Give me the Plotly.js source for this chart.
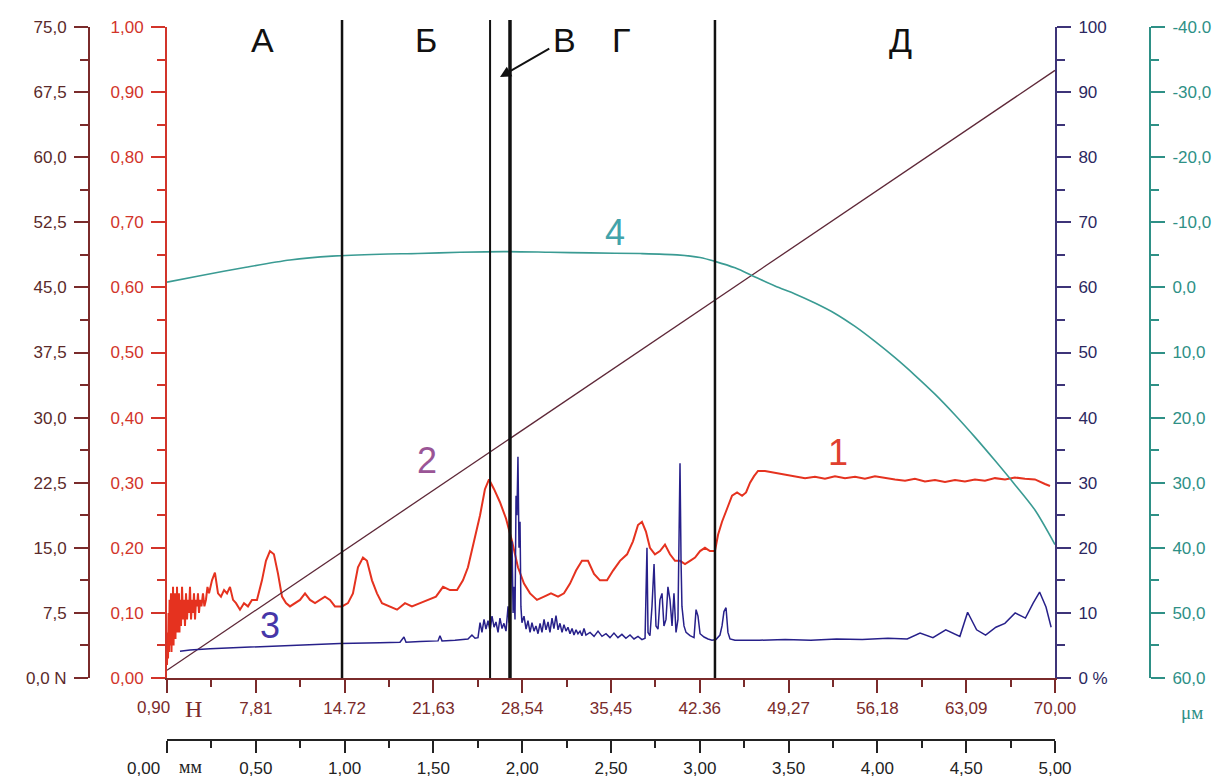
<!DOCTYPE html>
<html><head><meta charset="utf-8">
<script src="https://cdn.plot.ly/plotly-3.0.1.min.js"></script>
<style>html,body{margin:0;padding:0;background:#fff;}#chart{width:1223px;height:780px;}</style>
</head><body><div id="chart"></div>
<script>
// ---------- data (x in N of load) ----------
const COF_X = [0.90,0.94,0.98,1.02,1.06,1.10,1.13,1.17,1.21,1.25,1.29,1.33,1.37,1.41,1.44,1.48,1.52,1.56,1.60,1.64,1.68,1.72,1.76,1.80,1.83,1.87,1.91,1.99,2.07,2.15,2.22,2.30,2.38,2.46,2.53,2.61,2.69,2.77,2.85,2.93,3.00,3.08,3.16,3.24,3.31,3.39,3.47,3.58,3.70,3.81,3.93,4.05,4.17,4.40,4.63,4.87,5.10,5.34,5.57,5.80,6.04,6.27,6.58,6.89,7.20,7.51,7.90,8.29,8.60,8.91,9.22,9.54,9.85,10.16,10.47,10.86,11.25,11.64,12.03,12.42,12.81,13.19,13.58,13.97,14.52,14.98,15.37,15.76,16.15,16.46,16.85,17.24,17.63,18.25,18.80,19.42,19.96,20.59,21.21,21.83,22.38,22.92,23.47,23.93,24.32,24.79,25.26,25.64,25.96,26.35,26.81,27.28,27.75,28.21,28.68,29.15,29.69,30.24,30.78,31.33,31.79,32.26,32.73,33.19,33.66,34.13,34.59,35.14,35.61,36.15,36.70,37.16,37.55,37.86,38.17,38.48,38.87,39.26,39.65,40.04,40.43,40.82,41.21,41.60,41.99,42.38,42.76,43.15,43.54,43.78,44.09,44.48,44.87,45.26,45.65,45.96,46.27,46.58,46.89,47.43,48.21,48.99,49.77,50.55,51.32,52.10,52.88,53.66,54.44,55.21,55.99,56.77,57.55,58.33,59.10,59.88,60.66,61.44,62.22,62.99,63.77,64.55,65.33,66.11,66.88,67.66,68.44,69.22,69.61,70.00];
const COF_Y = [0.02,0.07,0.03,0.10,0.04,0.12,0.05,0.09,0.13,0.04,0.11,0.06,0.14,0.05,0.10,0.07,0.13,0.06,0.12,0.08,0.14,0.07,0.11,0.09,0.13,0.07,0.12,0.08,0.14,0.09,0.12,0.08,0.13,0.09,0.12,0.10,0.14,0.09,0.12,0.10,0.13,0.09,0.12,0.11,0.13,0.10,0.12,0.11,0.13,0.11,0.12,0.14,0.13,0.15,0.162,0.13,0.125,0.135,0.13,0.14,0.12,0.115,0.105,0.115,0.11,0.12,0.12,0.15,0.18,0.195,0.19,0.16,0.125,0.115,0.11,0.115,0.12,0.13,0.12,0.115,0.12,0.125,0.12,0.11,0.11,0.115,0.13,0.17,0.185,0.18,0.15,0.13,0.115,0.11,0.105,0.115,0.11,0.115,0.12,0.125,0.14,0.135,0.135,0.15,0.17,0.21,0.25,0.29,0.305,0.29,0.27,0.245,0.21,0.17,0.145,0.13,0.12,0.125,0.13,0.125,0.13,0.145,0.165,0.18,0.18,0.16,0.15,0.15,0.165,0.18,0.19,0.21,0.235,0.24,0.225,0.20,0.19,0.195,0.205,0.19,0.18,0.18,0.175,0.18,0.185,0.195,0.20,0.195,0.195,0.22,0.24,0.26,0.28,0.285,0.28,0.285,0.30,0.31,0.318,0.318,0.315,0.312,0.31,0.307,0.309,0.306,0.310,0.307,0.309,0.306,0.310,0.307,0.305,0.303,0.306,0.302,0.304,0.301,0.304,0.302,0.305,0.303,0.307,0.305,0.308,0.306,0.305,0.298,0.295];

const LOAD_X = [0.90, 70.00];
const LOAD_Y = [0.90, 70.00];

const AE_X = [1.91,2.69,4.25,6.58,9.69,12.81,14.36,17.47,19.03,19.34,19.50,20.59,21.99,22.14,22.30,23.31,23.70,24.32,24.63,24.87,25.10,25.26,25.41,25.57,25.72,25.88,26.04,26.19,26.35,26.50,26.66,26.81,26.97,27.12,27.28,27.44,27.52,27.59,27.75,27.83,27.90,27.98,28.06,28.13,28.21,28.29,28.37,28.44,28.52,28.68,28.84,28.99,29.15,29.30,29.46,29.61,29.77,29.93,30.08,30.24,30.39,30.55,30.70,30.86,31.01,31.17,31.33,31.48,31.64,31.79,31.95,32.10,32.26,32.42,32.57,32.73,32.88,33.04,33.19,33.35,33.50,33.82,34.13,34.44,34.75,35.06,35.37,35.68,35.99,36.30,36.61,36.93,37.24,37.55,37.86,38.10,38.25,38.33,38.48,38.64,38.80,38.95,39.11,39.26,39.42,39.57,39.73,39.88,40.04,40.20,40.35,40.51,40.66,40.82,40.90,40.97,41.13,41.29,41.60,41.91,42.07,42.22,42.38,42.69,43.00,43.31,43.62,43.93,44.09,44.24,44.40,44.55,44.71,45.10,47.00,49.00,51.00,53.00,55.00,57.00,58.50,59.50,60.50,61.50,62.60,63.20,63.90,64.60,65.40,66.10,66.90,67.70,68.30,68.80,69.30,69.70,70.00];
const AE_Y = [4.1,4.3,4.5,4.7,5.0,5.2,5.3,5.4,5.5,6.3,5.5,5.6,5.7,6.5,5.7,5.8,5.9,6.0,6.6,6.1,6.2,8.5,7.0,9.0,7.5,8.8,7.2,9.5,7.8,8.6,7.0,9.2,7.6,8.4,7.2,11,8.5,9.5,21,10,14,9,28,25,34,20,24,11,8.5,9.5,7.5,8.8,7.0,8.5,7.2,8.0,6.8,8.4,7.0,9.0,7.4,8.6,7.0,9.2,7.6,9.6,7.4,8.4,7.0,8.2,7.2,7.8,6.8,7.6,6.6,7.4,6.8,7.2,6.5,7.6,6.6,7.0,6.4,7.2,6.4,6.8,6.2,6.9,6.2,6.7,6.1,6.6,6.0,6.4,5.9,6.1,20,7,6.5,11,17.5,8,7.5,12,13,8,9,14,12,8,13,7,9,33,18,11,8,7,6.5,6.2,10.5,9.5,6.8,6.3,6.0,5.8,5.9,6.6,8,10.2,10.8,7,6,5.8,5.8,5.9,5.8,6.0,5.9,6.1,6.0,6.9,6.2,7.4,6.4,10.1,7.4,6.6,7.8,8.4,10.0,9.2,11.5,13.2,10.9,7.8];

const WEAR_X = [0.90,3.47,7.05,10.47,13.74,17.47,20.43,23.70,27.12,30.70,33.82,37.71,40.59,42.38,43.54,45.10,46.66,48.21,49.77,51.32,52.88,54.44,55.99,57.55,59.10,60.66,62.22,63.77,65.33,66.88,68.44,70.00];
const WEAR_Y = [-0.8,-1.8,-3.1,-4.2,-4.8,-5.1,-5.2,-5.4,-5.5,-5.4,-5.3,-5.2,-5.0,-4.6,-4.0,-3.0,-1.6,-0.2,1.0,2.4,4.0,6.0,8.3,10.8,13.5,16.4,19.6,23.0,26.6,30.3,34.2,39.5];

const STAGE_BOUNDS = [14.52, 26.04, 27.59, 43.54];
const STAGE_WIDTHS = [2.5, 2, 3.5, 2.5];
const STAGE_LABELS = ['А','Б','В','Г','Д'];
const CURVE_LABELS = ['1','2','3','4'];

const N_TICKS = [0.9,7.81,14.72,21.63,28.54,35.45,42.36,49.27,56.18,63.09,70.0];
const N_TICK_TEXT = ['','7,81','14.72','21,63','28,54','35,45','42.36','49,27','56,18','63,09','70,00'];
const MM_TICKS = [0,0.5,1,1.5,2,2.5,3,3.5,4,4.5,5];
const MM_TICK_TEXT = ['','0,50','1,00','1,50','2,00','2,50','3,00','3,50','4,00','4,50','5,00'];
const COF_TICKS = [0,0.1,0.2,0.3,0.4,0.5,0.6,0.7,0.8,0.9,1.0];
const COF_TICK_TEXT = ['0,00','0,10','0,20','0,30','0,40','0,50','0,60','0,70','0,80','0,90','1,00'];
const LOAD_TICKS = [0,7.5,15,22.5,30,37.5,45,52.5,60,67.5,75];
const LOAD_TICK_TEXT = ['0,0 N','7,5','15,0','22,5','30,0','37,5','45,0','52,5','60,0','67,5','75,0'];
const PCT_TICKS = [0,10,20,30,40,50,60,70,80,90,100];
const PCT_TICK_TEXT = ['0 %','10','20','30','40','50','60','70','80','90','100'];
const DEPTH_TICKS = [-40,-30,-20,-10,0,10,20,30,40,50,60];
const DEPTH_TICK_TEXT = ['-40.0','-30,0','-20,0','-10,0','0,0','10,0','20,0','30,0','40,0','50,0','60,0'];

// ---------- layout helpers ----------
const W = 1223, H = 780;
const px = x => x / W, py = y => 1 - y / H;
const BROWN = '#7a2b2b', RED = '#d2342a', PURPLE = '#3d3478', TEAL = '#2e9086';
const FONT = 'Liberation Sans, Arial, sans-serif';
const SERIF = 'Liberation Serif, DejaVu Serif, serif';

function yAx(o) {
  return Object.assign({
    tickmode: 'array', ticks: 'outside', ticklen: 14, tickwidth: 2,
    showline: true, linewidth: 2, zeroline: false, showgrid: false,
    fixedrange: true, ticklabelstandoff: 4,
    tickfont: {family: FONT, size: 17}
  }, o);
}
function label(text, x, y, font) {
  return {text: text, xref: 'paper', yref: 'paper', x: px(x), y: py(y),
          xanchor: 'center', yanchor: 'middle', showarrow: false, font: font};
}

const traces = [
  {x: COF_X, y: COF_Y, xaxis: 'x', yaxis: 'y', mode: 'lines', line: {color: '#e5321f', width: 2}, hoverinfo: 'skip'},
  {x: LOAD_X, y: LOAD_Y, xaxis: 'x', yaxis: 'y2', mode: 'lines', line: {color: '#5e2838', width: 1.3}, hoverinfo: 'skip'},
  {x: AE_X, y: AE_Y, xaxis: 'x', yaxis: 'y3', mode: 'lines', line: {color: '#27208a', width: 1.5}, hoverinfo: 'skip'},
  {x: WEAR_X, y: WEAR_Y, xaxis: 'x', yaxis: 'y4', mode: 'lines', line: {color: '#3a9b93', width: 1.6, shape: 'spline', smoothing: 0.8}, hoverinfo: 'skip'},
  {x: [0, 5], y: [null, null], xaxis: 'x2', yaxis: 'y', mode: 'lines', showlegend: false, hoverinfo: 'skip'}
];

const shapes = STAGE_BOUNDS.map((b, i) => ({
  type: 'line', xref: 'x', yref: 'paper', x0: b, x1: b, y0: py(678), y1: py(20),
  line: {color: '#111', width: STAGE_WIDTHS[i]}
}));

const stagePos = [[262, 40], [426, 40], [564, 40], [621, 40], [900, 40]];
const annotations = STAGE_LABELS.map((t, i) =>
  label(t, stagePos[i][0], stagePos[i][1], {family: FONT, size: 34, color: '#111'}));
// arrow for В (head near the double line, text at tail)
annotations[2] = Object.assign(annotations[2], {
  showarrow: true, axref: 'pixel', ayref: 'pixel', ax: 64, ay: -37,
  x: px(500), y: py(77),
  arrowhead: 2, arrowsize: 1.1, arrowwidth: 2, arrowcolor: '#111', standoff: 0, startstandoff: 2
});

const curvePos = [[838, 452, '#e0402f'], [427, 460, '#9a5596'], [270, 625, '#4636a8'], [615, 232, '#42a3aa']];
CURVE_LABELS.forEach((t, i) => annotations.push(
  label(t, curvePos[i][0], curvePos[i][1], {family: FONT, size: 36, color: curvePos[i][2], weight: 300})));
// first tick labels and units
annotations.push(label('0,90', 153, 707, {family: FONT, size: 17, color: BROWN}));
annotations.push(label('Н', 193, 709, {family: SERIF, size: 24, color: BROWN}));
annotations.push(label('0,00', 143, 768, {family: FONT, size: 17, color: '#222'}));
annotations.push(label('мм', 190, 767, {family: SERIF, size: 18, color: '#222'}));
annotations.push(label('μм', 1192, 712, {family: SERIF, size: 19, color: TEAL}));

const layout = {
  width: W, height: H, margin: {l: 0, r: 0, t: 0, b: 0},
  paper_bgcolor: '#fff', plot_bgcolor: '#fff', showlegend: false,
  xaxis: {
    domain: [px(167), px(1055)], range: [0.9, 70], tickmode: 'array', tickvals: N_TICKS, ticktext: N_TICK_TEXT,
    ticks: 'outside', ticklen: 13, tickwidth: 2, tickcolor: BROWN, showline: true, linecolor: BROWN, linewidth: 2,
    zeroline: false, showgrid: false, fixedrange: true, tickfont: {family: FONT, size: 17, color: BROWN}, ticklabelstandoff: 1,
    minor: {tickmode: 'linear', tick0: 0.9 + 3.455, dtick: 6.91, ticks: 'outside', ticklen: 7, tickwidth: 2, tickcolor: BROWN, showgrid: false},
    anchor: 'y'
  },
  xaxis2: {
    domain: [px(167), px(1055)], range: [0, 5], overlaying: 'x', anchor: 'free', position: py(740), side: 'bottom',
    tickmode: 'array', tickvals: MM_TICKS, ticktext: MM_TICK_TEXT,
    ticks: 'outside', ticklen: 12, tickwidth: 2, tickcolor: '#222', showline: true, linecolor: '#222', linewidth: 2,
    zeroline: false, showgrid: false, fixedrange: true, tickfont: {family: FONT, size: 17, color: '#222'}, ticklabelstandoff: 1,
    minor: {tickmode: 'linear', tick0: 0.25, dtick: 0.5, ticks: 'outside', ticklen: 7, tickwidth: 2, tickcolor: '#222', showgrid: false}
  },
  yaxis: yAx({
    domain: [py(678), py(27)], range: [0, 1], tickvals: COF_TICKS, ticktext: COF_TICK_TEXT, anchor: 'x', side: 'left',
    linecolor: RED, tickcolor: RED, tickfont: {family: FONT, size: 17, color: RED},
    minor: {tickmode: 'linear', tick0: 0.05, dtick: 0.1, ticks: 'outside', ticklen: 8, tickwidth: 2, tickcolor: RED, showgrid: false}
  }),
  yaxis2: yAx({
    domain: [py(678), py(27)], range: [0, 75], tickvals: LOAD_TICKS, ticktext: LOAD_TICK_TEXT, overlaying: 'y',
    anchor: 'free', position: px(89), side: 'left',
    linecolor: BROWN, tickcolor: BROWN, tickfont: {family: FONT, size: 17, color: '#5a2a2a'},
    minor: {tickmode: 'linear', tick0: 3.75, dtick: 7.5, ticks: 'outside', ticklen: 8, tickwidth: 2, tickcolor: BROWN, showgrid: false}
  }),
  yaxis3: yAx({
    domain: [py(678), py(27)], range: [0, 100], tickvals: PCT_TICKS, ticktext: PCT_TICK_TEXT, overlaying: 'y',
    anchor: 'x', side: 'right',
    linecolor: PURPLE, tickcolor: PURPLE, tickfont: {family: FONT, size: 17, color: '#2c2860'},
    minor: {tickmode: 'linear', tick0: 5, dtick: 10, ticks: 'outside', ticklen: 8, tickwidth: 2, tickcolor: PURPLE, showgrid: false}
  }),
  yaxis4: yAx({
    domain: [py(678), py(27)], range: [60, -40], tickvals: DEPTH_TICKS, ticktext: DEPTH_TICK_TEXT, overlaying: 'y',
    anchor: 'free', position: px(1150), side: 'right',
    linecolor: TEAL, tickcolor: TEAL, tickfont: {family: FONT, size: 17, color: TEAL},
    minor: {tickmode: 'linear', tick0: -35, dtick: 10, ticks: 'outside', ticklen: 8, tickwidth: 2, tickcolor: TEAL, showgrid: false}
  }),
  shapes: shapes,
  annotations: annotations
};

Plotly.newPlot('chart', traces, layout, {staticPlot: true, displayModeBar: false});
</script>
</body></html>
